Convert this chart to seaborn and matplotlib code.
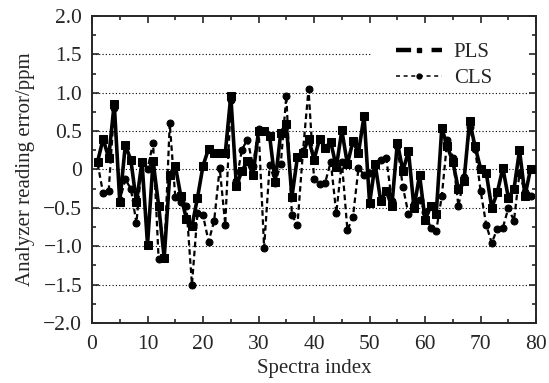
import numpy as np
import pandas as pd
import matplotlib
matplotlib.use('Agg')
import matplotlib.pyplot as plt
from matplotlib.lines import Line2D
from matplotlib.ticker import MultipleLocator
import seaborn as sns

# spectra index 1..79
spectra = list(range(1, 80))

pls = [0.10, 0.40, 0.15, 0.86, -0.42, 0.32, 0.12, -0.43, 0.10, -0.98,
       0.11, -0.47, -1.15, -0.07, 0.05, -0.35, -0.64, -0.74, -0.37, 0.05,
       0.27, 0.21, 0.22, 0.21, 0.96, -0.21, -0.02, 0.11, -0.07, 0.50,
       0.50, 0.43, -0.16, 0.48, 0.59, -0.36, 0.16, 0.22, 0.40, 0.13,
       0.40, 0.28, 0.36, 0.03, 0.51, 0.07, 0.37, 0.22, 0.70, -0.44,
       0.07, -0.41, -0.28, -0.48, 0.35, -0.02, 0.24, -0.50, -0.07, -0.66,
       -0.48, -0.58, 0.54, 0.30, 0.10, -0.26, -0.15, 0.63, 0.30, 0.01,
       -0.04, -0.50, -0.30, 0.02, -0.37, -0.26, 0.25, -0.34, 0.01]

cls = [0.08, -0.31, -0.28, 0.80, -0.40, -0.13, -0.25, -0.70, 0.10, 0.00,
       0.35, -1.17, -1.15, 0.60, -0.36, -0.42, -0.48, -1.50, -0.57, -0.60,
       -0.94, -0.67, 0.02, -0.72, 0.90, -0.15, 0.26, 0.39, 0.05, 0.53,
       -1.02, 0.06, -0.17, 0.07, 0.96, -0.59, -0.73, 0.24, 1.05, -0.13,
       -0.19, -0.17, 0.10, -0.57, 0.10, -0.79, -0.62, 0.02, -0.07, -0.05,
       0.05, 0.13, 0.15, -0.41, 0.30, -0.23, -0.58, -0.45, -0.40, -0.55,
       -0.76, -0.80, -0.35, 0.39, 0.15, -0.48, -0.10, 0.55, 0.27, -0.28,
       -0.72, -0.96, -0.77, -0.76, -0.50, -0.67, -0.05, -0.30, -0.35]

grid_levels = [-1.5, -1.0, -0.5, 0.0, 0.5, 1.0, 1.5]
ytick_labels = ['\u22122.0', '\u22121.5', '\u22121.0', '\u22120.5', '0',
                '0.5', '1.0', '1.5', '2.0']

df = pd.DataFrame({'idx': spectra, 'PLS': pls, 'CLS': cls})

sns.set_style('ticks')
plt.rcParams['font.family'] = ['Liberation Serif', 'DejaVu Serif']

fig = plt.figure(figsize=(5.49, 3.83), dpi=100)
ax = fig.add_axes([0.1676, 0.157, 0.809, 0.801])

# dotted horizontal guides; the top one stops where the legend sits
for yv in grid_levels:
    xmax = 50 / 80 if yv == 1.5 else 1
    ax.axhline(yv, xmax=xmax, color='black', lw=0.8, ls=(0, (1, 2)), zorder=0)

sns.lineplot(data=df, x='idx', y='CLS', ax=ax, color='black', lw=1.6,
             linestyle=(0, (2.5, 1.6)), marker='o', markersize=5,
             markeredgecolor='black', zorder=2)
sns.lineplot(data=df, x='idx', y='PLS', ax=ax, color='black', lw=2.6,
             marker='s', markersize=5.5, markeredgecolor='black', zorder=3)

ax.set_xlim(0, 80)
ax.set_ylim(-2, 2)
ax.xaxis.set_major_locator(MultipleLocator(10))
ax.xaxis.set_minor_locator(MultipleLocator(5))
ax.yaxis.set_minor_locator(MultipleLocator(0.25))
ax.set_yticks(np.arange(-2, 2.01, 0.5))
ax.set_yticklabels(ytick_labels)
ax.tick_params(which='both', direction='in', top=True, right=True,
               labelsize=15.5, width=1.2)
ax.tick_params(which='major', length=5)
ax.tick_params(which='minor', length=3)
ax.tick_params(axis='x', pad=9)
ax.tick_params(axis='y', pad=7)
for s in ax.spines.values():
    s.set_linewidth(1.4)

ax.set_xlabel('Spectra index', fontsize=15, labelpad=3)
ax.set_ylabel('Analyzer reading error/ppm', fontsize=15, labelpad=6)

handles = [
    Line2D([], [], color='black', lw=3.2, ls=(0, (3.4, 4.6)),
           marker='s', markersize=3.2),
    Line2D([], [], color='black', lw=1.1, ls=(0, (2.6, 2.4)),
           marker='o', markersize=3.5),
]
ax.legend(handles, ['PLS', 'CLS'], loc='center left',
          bbox_to_anchor=(0.662, 0.84), frameon=False, fontsize=15,
          handlelength=2.2, handletextpad=0.55, labelspacing=0.3,
          borderpad=0, numpoints=1)

fig.savefig('out.png', dpi=100)
